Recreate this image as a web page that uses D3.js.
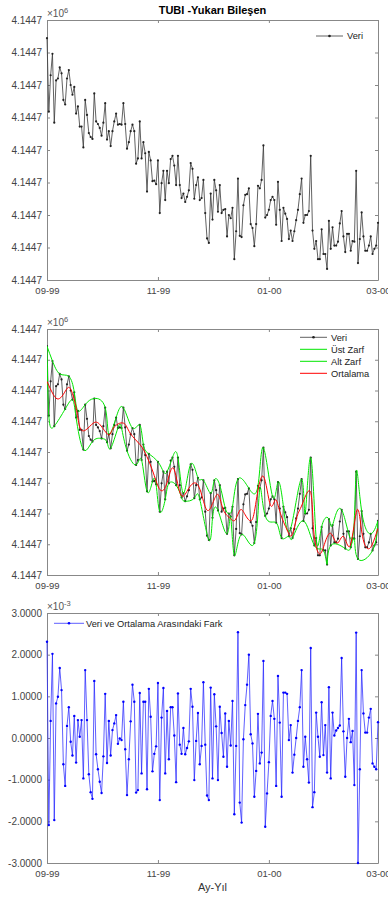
<!DOCTYPE html>
<html>
<head>
<meta charset="utf-8">
<script src="https://cdn.jsdelivr.net/npm/d3@7"></script>
<style>
  html, body { margin: 0; padding: 0; background: #fff; }
  svg { display: block; font-family: "Liberation Sans", Arial, sans-serif; }
</style>
</head>
<body>
<div id="chart"></div>
<script>
// daily up component, mm above baseHeight (m)
const baseHeight = 4144700;
const startDate = new Date(1999, 8, 1);
const endDate = new Date(2000, 2, 1);

const dataMm = [
  14.88, 10.36, 12.60, 13.92, 9.68, 12.28, 12.40, 13.08, 12.72, 11.08,
  10.80, 12.40, 12.92, 12.00, 11.40, 11.88, 10.24, 10.68, 9.44, 9.44,
  8.16, 11.08, 10.16, 9.04, 8.80, 8.68, 11.48, 9.76, 9.60, 9.36,
  8.88, 9.68, 10.88, 8.64, 9.16, 8.24, 9.16, 9.76, 10.24, 9.56,
  9.60, 9.56, 10.88, 9.60, 8.08, 8.48, 9.16, 9.56, 9.16, 7.16,
  7.48, 9.76, 7.48, 8.48, 7.80, 5.44, 7.88, 7.36, 6.08, 6.12,
  5.90, 7.36, 4.12, 5.96, 6.72, 4.92, 6.72, 5.96, 7.44, 7.64,
  7.04, 5.84, 7.64, 5.84, 5.04, 5.32, 4.80, 5.12, 5.52, 7.20,
  6.84, 5.00, 5.84, 6.32, 4.92, 5.04, 6.16, 4.12, 2.56, 2.28,
  5.32, 3.72, 6.16, 5.52, 4.20, 5.84, 4.12, 4.32, 4.36, 2.68,
  4.00, 3.80, 4.44, 1.28, 3.00, 6.24, 2.72, 2.64, 4.60, 5.24,
  5.28, 5.64, 3.44, 3.20, 2.08, 3.44, 5.80, 5.64, 6.16, 8.28,
  3.84, 4.00, 4.32, 4.92, 5.12, 4.92, 3.40, 6.04, 4.32, 2.40,
  4.44, 4.08, 3.76, 2.52, 3.04, 2.40, 3.00, 3.68, 4.32, 5.28,
  6.24, 3.52, 4.00, 4.00, 4.24, 7.64, 3.04, 1.92, 2.40, 1.28,
  1.28, 3.12, 1.60, 1.60, 0.68, 3.64, 1.92, 3.24, 2.12, 2.12,
  2.36, 3.48, 4.24, 2.68, 1.72, 2.84, 2.84, 1.80, 2.40, 2.36,
  6.72, 1.04, 2.52, 4.16, 2.68, 1.80, 1.80, 2.12, 2.68, 1.60,
  1.92, 2.12, 3.52
];

// data minus mean, x1e-3 m
const diffMm = [
  2.31, -2.09, 0.41, 2.02, -1.97, 0.83, 0.99, 1.68, 1.15, -0.63,
  -1.15, 0.29, 0.74, -0.09, -0.42, 0.53, -0.59, 0.43, 0.03, 0.43,
  -0.97, 1.63, 0.43, -0.87, -1.30, -1.46, 1.37, -0.39, -0.75, -1.05,
  -1.32, -0.44, 1.06, -0.60, 0.41, -0.42, 0.19, 0.35, 0.55, -0.14,
  -0.01, -0.05, 0.87, -0.27, -1.37, -0.51, 0.40, 1.28, 0.87, -1.31,
  -1.25, 1.08, -0.85, 0.87, 0.87, -1.23, 1.18, 0.51, -0.80, -0.38,
  -0.20, 1.32, -1.49, 0.49, 1.20, -0.85, 0.65, -0.51, 0.74, 0.74,
  0.06, -1.06, 1.07, -0.16, -0.38, 0.24, -0.39, -0.24, -0.08, 1.18,
  0.75, -1.01, -0.07, 0.60, -0.63, -0.19, 1.34, -0.16, -1.38, -1.49,
  1.21, -0.97, 1.05, 0.28, -1.01, 0.75, 0.12, -0.45, 0.59, -0.69,
  0.41, -0.18, 0.89, -1.83, -0.19, 2.54, -1.55, -2.03, -0.03, 0.79,
  1.28, 2.00, 0.09, -0.13, -1.41, -0.79, 0.58, -0.61, -0.35, 1.85,
  -2.13, -1.33, -0.58, 0.53, 0.89, 0.46, -1.15, 1.49, 0.37, -1.41,
  1.09, 1.09, 1.06, -0.05, 0.31, -0.83, -0.40, 0.00, 0.41, 0.74,
  1.63, -0.69, 0.03, -0.51, -1.07, 2.16, -1.66, -1.30, 0.61, 0.03,
  -0.45, 0.86, -0.41, 0.31, -0.83, 1.22, -0.97, 0.61, 0.06, 0.18,
  0.24, 0.30, 1.92, 0.16, -0.93, 0.00, 0.46, -0.10, 0.17, -1.13,
  2.53, -3.00, -0.75, 1.63, 0.59, 0.13, 0.13, 0.49, 0.70, -0.61,
  -0.69, -0.75, 0.38
];

// mean of envelopes, read at knots (day offset, mm)
const meanDay = [0, 3.5, 6.2, 9, 11.7, 14, 16.3, 18.2, 21.5, 25.5, 29.2, 33.8, 36.5, 42, 45.7,
  51.2, 54.9, 58.5, 62.2, 65.9, 69.5, 73.2, 76.9, 80.5, 84.2, 87.9, 91.5, 94.3, 97, 100.7,
  103.5, 106.2, 109, 112.7, 115.4, 119.1, 122.8, 125.6, 128.3, 132, 134.7, 137.5, 140.2,
  144.8, 146.6, 149.4, 152.1, 155.8, 159.5, 163.1, 166.8, 170.5, 173.2, 176, 178.7, 182];
const meanMm = [12.59, 11.73, 11.45, 11.75, 12.2, 11.8, 10.7, 9.56, 9.45, 9.88, 9.77, 9.12, 9.56, 9.88, 9.23,
  8.47, 7.71, 6.63, 5.54, 5.97, 6.95, 5.32, 5.43, 5.97, 5.54, 4.23, 4.78, 5.21, 4.23, 3.69,
  3.58, 4.23, 3.91, 3.58, 5.10, 6.40, 4.56, 4.89, 4.02, 2.93, 2.61, 3.80, 4.56,
  5.43, 2.93, 1.41, 1.84, 2.72, 2.07, 2.50, 1.95, 4.23, 2.72, 1.74, 1.95, 3.04];

const heightTicks = [0, 2, 4, 6, 8, 10, 12, 14, 16];
const diffTicks = [-3, -2, -1, 0, 1, 2, 3];
const monthTicks = [new Date(1999, 8, 1), new Date(1999, 10, 1), new Date(2000, 0, 1), new Date(2000, 2, 1)];

const W = 388, H = 899;
const left = 47, right = 378;
const panels = [
  {top: 20, bottom: 280},
  {top: 329, bottom: 575},
  {top: 613, bottom: 863}
];

const svg = d3.select("#chart").append("svg")
  .attr("width", W)
  .attr("height", H);

const dates = dataMm.map((d, i) => d3.timeDay.offset(startDate, i));
const x = d3.scaleTime().domain([startDate, endDate]).range([left, right]);

const heightFmt = v => ((baseHeight + v / 1000) / 1e6).toFixed(4);
const diffFmt = v => v.toFixed(4);

function drawAxes(p, y, ticks, fmt, expo) {
  const g = svg.append("g");
  g.append("g")
    .attr("transform", `translate(0,${p.bottom})`)
    .call(d3.axisBottom(x).tickValues(monthTicks).tickFormat(d3.timeFormat("%m-%y"))
      .tickSizeInner(-3).tickSizeOuter(0).tickPadding(7))
    .call(g => g.selectAll("text").style("font-size", "9.5px"));
  g.append("g")
    .attr("transform", `translate(0,${p.top})`)
    .call(d3.axisTop(x).tickValues(monthTicks).tickFormat("").tickSizeInner(-3).tickSizeOuter(0));
  g.append("g")
    .attr("transform", `translate(${left},0)`)
    .call(d3.axisLeft(y).tickValues(ticks).tickFormat(fmt)
      .tickSizeInner(-3).tickSizeOuter(0).tickPadding(5))
    .call(g => g.selectAll("text").style("font-size", "10px"));
  g.append("g")
    .attr("transform", `translate(${right},0)`)
    .call(d3.axisRight(y).tickValues(ticks).tickFormat("").tickSizeInner(-3).tickSizeOuter(0));
  g.selectAll(".domain, .tick line").attr("stroke", "#888");
  g.selectAll(".tick text").attr("fill", "#444").attr("font-family", null);

  // exponent label
  const t = g.append("text")
    .attr("x", left)
    .attr("y", p.top - 3.5)
    .attr("fill", "#555")
    .style("font-size", "10px")
    .text("\u00d710");
  t.append("tspan")
    .attr("dy", -4)
    .style("font-size", "7.5px")
    .text(expo);
}

function legend(items, x0, x1, tx, y0, step) {
  const g = svg.append("g");
  items.forEach((it, i) => {
    const yy = y0 + i * step;
    g.append("line")
      .attr("x1", x0).attr("x2", x1)
      .attr("y1", yy).attr("y2", yy)
      .attr("stroke", it.color)
      .attr("stroke-width", it.width)
      .attr("stroke-opacity", it.opacity || 1);
    if (it.marker) {
      g.append("circle")
        .attr("cx", (x0 + x1) / 2).attr("cy", yy)
        .attr("r", 1.3)
        .attr("fill", it.marker);
    }
    g.append("text")
      .attr("x", tx).attr("y", yy)
      .attr("dy", "0.35em")
      .attr("fill", "#222")
      .style("font-size", "9.3px")
      .text(it.name);
  });
}

// panel 1 - data
const y1 = d3.scaleLinear().domain([0, 16]).range([panels[0].bottom, panels[0].top]);
drawAxes(panels[0], y1, heightTicks, heightFmt, "6");

const line1 = d3.line().x((d, i) => x(dates[i])).y(d => y1(d));
svg.append("path")
  .datum(dataMm)
  .attr("fill", "none")
  .attr("stroke", "#3a3a3a")
  .attr("stroke-width", 0.8)
  .attr("d", line1);
svg.append("g").selectAll("circle")
  .data(dataMm)
  .enter().append("circle")
    .attr("cx", (d, i) => x(dates[i]))
    .attr("cy", d => y1(d))
    .attr("r", 1.1)
    .attr("fill", "#222");

svg.append("text")
  .attr("x", (left + right) / 2)
  .attr("y", 14)
  .attr("text-anchor", "middle")
  .style("font-size", "11px")
  .style("font-weight", "bold")
  .text("TUBI -Yukarı Bileşen");

legend([{name: "Veri", color: "#3a3a3a", width: 0.8, marker: "#222"}], 316, 343, 347, 36, 12);

// panel 2 - envelopes and mean
const y2 = d3.scaleLinear().domain([0, 16]).range([panels[1].bottom, panels[1].top]);
drawAxes(panels[1], y2, heightTicks, heightFmt, "6");

svg.append("clipPath").attr("id", "clip2")
  .append("rect")
    .attr("x", left).attr("y", panels[1].top)
    .attr("width", right - left).attr("height", panels[1].bottom - panels[1].top);

const p2 = svg.append("g").attr("clip-path", "url(#clip2)");

const line2 = d3.line().x((d, i) => x(dates[i])).y(d => y2(d));
p2.append("path")
  .datum(dataMm)
  .attr("fill", "none")
  .attr("stroke", "#3a3a3a")
  .attr("stroke-width", 0.8)
  .attr("d", line2);
p2.append("g").selectAll("circle")
  .data(dataMm)
  .enter().append("circle")
    .attr("cx", (d, i) => x(dates[i]))
    .attr("cy", d => y2(d))
    .attr("r", 1.1)
    .attr("fill", "#222");

// envelope knots: local peaks above the mean / troughs below it, plus both ends
const n = dataMm.length;
const upperIdx = [0], lowerIdx = [0];
for (let i = 1; i < n - 1; i++) {
  if (dataMm[i] > dataMm[i - 1] && dataMm[i] >= dataMm[i + 1] && diffMm[i] > 0) upperIdx.push(i);
  if (dataMm[i] < dataMm[i - 1] && dataMm[i] <= dataMm[i + 1] && diffMm[i] < 0) lowerIdx.push(i);
}
upperIdx.push(n - 1);
lowerIdx.push(n - 1);

const envLine = d3.line()
  .x(i => x(dates[i]))
  .y(i => y2(dataMm[i]))
  .curve(d3.curveNatural);

[upperIdx, lowerIdx].forEach(idx => {
  p2.append("path")
    .datum(idx)
    .attr("fill", "none")
    .attr("stroke", "#00e600")
    .attr("stroke-width", 1)
    .attr("d", envLine);
});

const meanLine = d3.line()
  .x((d, i) => x(new Date(+startDate + meanDay[i] * 864e5)))
  .y(d => y2(d))
  .curve(d3.curveNatural);
p2.append("path")
  .datum(meanMm)
  .attr("fill", "none")
  .attr("stroke", "#ff0000")
  .attr("stroke-width", 1)
  .attr("d", meanLine);

legend([
  {name: "Veri", color: "#3a3a3a", width: 0.8, marker: "#222"},
  {name: "Üst Zarf", color: "#00e600", width: 1},
  {name: "Alt Zarf", color: "#00e600", width: 1},
  {name: "Ortalama", color: "#ff0000", width: 1}
], 300, 327, 331, 337.3, 12);

// panel 3 - difference
const y3 = d3.scaleLinear().domain([-3, 3]).range([panels[2].bottom, panels[2].top]);
drawAxes(panels[2], y3, diffTicks, diffFmt, "-3");

const line3 = d3.line().x((d, i) => x(dates[i])).y(d => y3(d));
svg.append("path")
  .datum(diffMm)
  .attr("fill", "none")
  .attr("stroke", "#2020ff")
  .attr("stroke-opacity", 0.8)
  .attr("stroke-width", 0.9)
  .attr("d", line3);
svg.append("g").selectAll("circle")
  .data(diffMm)
  .enter().append("circle")
    .attr("cx", (d, i) => x(dates[i]))
    .attr("cy", d => y3(d))
    .attr("r", 1.2)
    .attr("fill", "#0000ff");

legend([{name: "Veri ve Ortalama Arasındaki Fark", color: "#2020ff", width: 0.9, opacity: 0.8, marker: "#0000ff"}],
  54, 84, 86, 623.3, 12);

svg.append("text")
  .attr("x", (left + right) / 2)
  .attr("y", 891)
  .attr("text-anchor", "middle")
  .attr("fill", "#333")
  .style("font-size", "11px")
  .text("Ay-Yıl");
</script>
</body>
</html>
